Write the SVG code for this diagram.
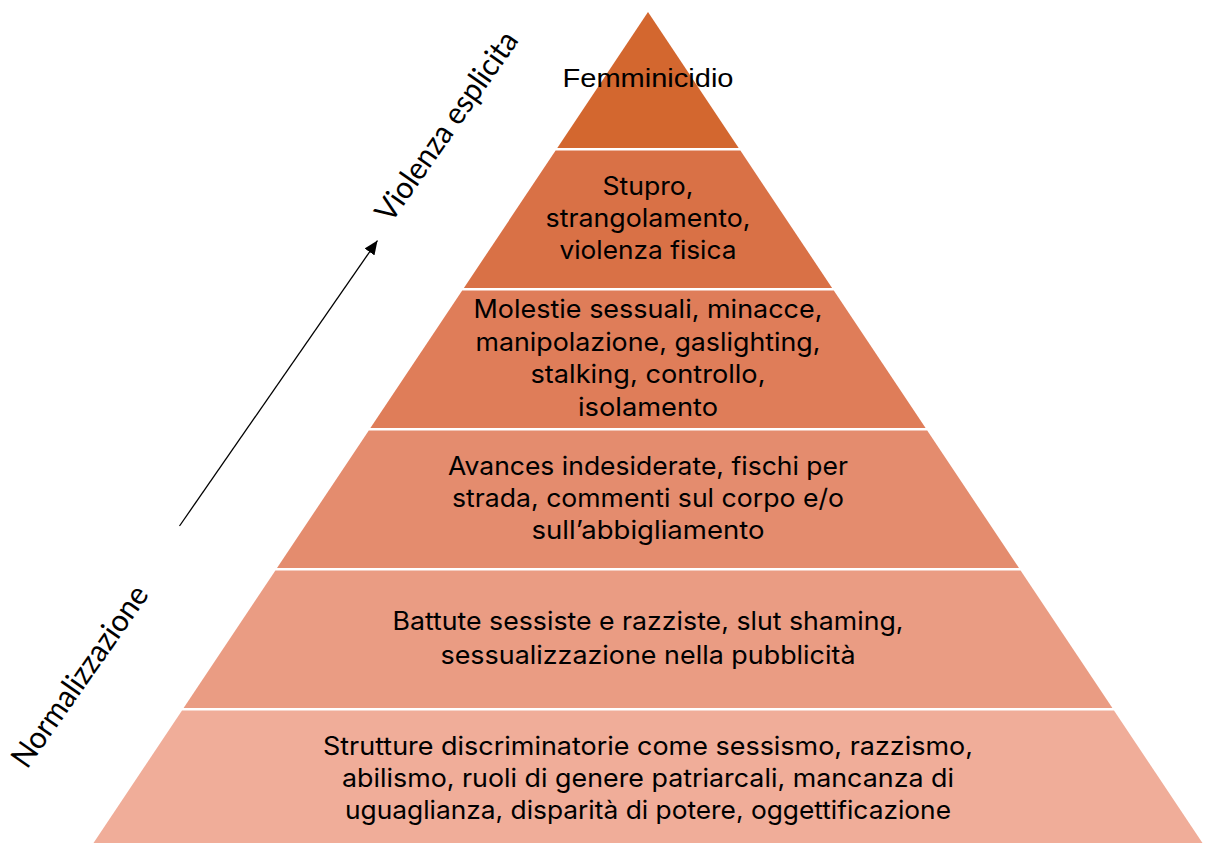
<svg xmlns="http://www.w3.org/2000/svg" width="1205" height="843" viewBox="0 0 1205 843">
  <style>
    .t { font-family: Inter, "Liberation Sans", sans-serif; font-size: 25.5px; fill: #000; text-anchor: middle; }
    .ta { font-family: "Liberation Sans", Arial, sans-serif; font-size: 26px; fill: #000; text-anchor: middle; }
    .r { font-family: Lato, "Open Sans", sans-serif; font-size: 31px; fill: #000; }
    .arrow { stroke: #000; stroke-width: 1.3; fill: none; }
  </style>
  <defs>
    <marker id="ah" viewBox="0 0 14 12" refX="14" refY="6" markerWidth="14" markerHeight="12" markerUnits="userSpaceOnUse" orient="auto">
      <path d="M0,0 L14,6 L0,12 z" fill="#000"/>
    </marker>
  </defs>
  <rect width="1205" height="843" fill="#fff"/>

  <g id="level1">
    <polygon points="648,12 738.7,148 557.3,148" fill="#D3672F"/>
    <text class="ta" x="648" y="87" textLength="171" lengthAdjust="spacingAndGlyphs">Femminicidio</text>
  </g>
  <g id="level2">
    <polygon points="555.6,150.5 740.4,150.5 832.1,288 463.9,288" fill="#D97146"/>
    <text class="t" x="648" y="194.5" textLength="91" lengthAdjust="spacingAndGlyphs">Stupro,</text>
    <text class="t" x="648" y="227" textLength="205" lengthAdjust="spacingAndGlyphs">strangolamento,</text>
    <text class="t" x="648" y="259" textLength="177" lengthAdjust="spacingAndGlyphs">violenza fisica</text>
  </g>
  <g id="level3">
    <polygon points="462.2,290.5 833.8,290.5 925.6,428 370.4,428" fill="#DF7D59"/>
    <text class="t" x="648" y="318" textLength="349" lengthAdjust="spacingAndGlyphs">Molestie sessuali, minacce,</text>
    <text class="t" x="648" y="350.5" textLength="345" lengthAdjust="spacingAndGlyphs">manipolazione, gaslighting,</text>
    <text class="t" x="648" y="383" textLength="235" lengthAdjust="spacingAndGlyphs">stalking, controllo,</text>
    <text class="t" x="648" y="415.5" textLength="140" lengthAdjust="spacingAndGlyphs">isolamento</text>
  </g>
  <g id="level4">
    <polygon points="368.8,430.5 927.2,430.5 1019,568 277,568" fill="#E48C6E"/>
    <text class="t" x="648" y="474.5" textLength="400" lengthAdjust="spacingAndGlyphs">Avances indesiderate, fischi per</text>
    <text class="t" x="648" y="506.5" textLength="392" lengthAdjust="spacingAndGlyphs">strada, commenti sul corpo e/o</text>
    <text class="t" x="648" y="538.5" textLength="233" lengthAdjust="spacingAndGlyphs">sull’abbigliamento</text>
  </g>
  <g id="level5">
    <polygon points="275.4,570.5 1020.6,570.5 1112.4,708 183.6,708" fill="#EA9C83"/>
    <text class="t" x="648" y="629.5" textLength="511" lengthAdjust="spacingAndGlyphs">Battute sessiste e razziste, slut shaming,</text>
    <text class="t" x="648" y="664" textLength="415" lengthAdjust="spacingAndGlyphs">sessualizzazione nella pubblicità</text>
  </g>
  <g id="level6">
    <polygon points="182,710.5 1114,710.5 1202.5,843 93.5,843" fill="#F0AD99"/>
    <text class="t" x="648" y="754.5" textLength="650" lengthAdjust="spacingAndGlyphs">Strutture discriminatorie come sessismo, razzismo,</text>
    <text class="t" x="648" y="786.5" textLength="612" lengthAdjust="spacingAndGlyphs">abilismo, ruoli di genere patriarcali, mancanza di</text>
    <text class="t" x="648" y="818.5" textLength="606" lengthAdjust="spacingAndGlyphs">uguaglianza, disparità di potere, oggettificazione</text>
  </g>

  <g id="connectors">
    <line class="arrow" x1="179.5" y1="526" x2="377.5" y2="240.5" marker-end="url(#ah)"/>
  </g>

  <g id="label-violenza">
    <text class="r" transform="translate(391,224) rotate(-55)" textLength="224" lengthAdjust="spacingAndGlyphs">Violenza esplicita</text>
  </g>
  <g id="label-normalizzazione">
    <text class="r" transform="translate(27,770) rotate(-55)" textLength="214" lengthAdjust="spacingAndGlyphs">Normalizzazione</text>
  </g>
</svg>
